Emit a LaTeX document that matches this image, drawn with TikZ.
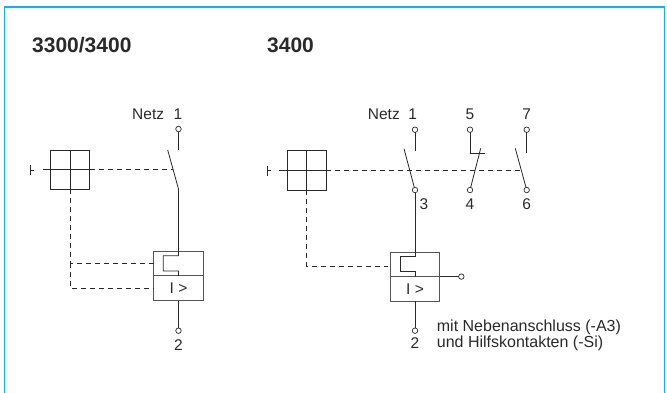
\documentclass[tikz,border=0pt]{standalone}
\usepackage{fontspec}
\setmainfont{Liberation Sans}
\definecolor{frameCyan}{HTML}{12B0F0}
\definecolor{lineDark}{HTML}{2A2A2A}
\definecolor{boxGray}{HTML}{555555}
\usetikzlibrary{calc,positioning}
\begin{document}
\begin{tikzpicture}[x=1pt,y=-1pt,
  lbl/.style={inner sep=0pt, text=lineDark, font=\fontsize{15.5}{16}\selectfont},
  heading/.style={inner sep=0pt, anchor=west, text=lineDark, font=\fontsize{21}{22}\selectfont\bfseries},
  wire/.style={draw=lineDark, line width=0.8pt},
  mech/.style={draw=lineDark, line width=0.9pt, dash pattern=on 5pt off 4pt},
  unitbox/.style={draw=boxGray, line width=0.9pt, minimum width=49.5pt, minimum height=24.6pt, inner sep=0pt, outer sep=0pt},
  handbox/.style={draw=lineDark, line width=0.8pt, minimum size=39.5pt, inner sep=0pt, outer sep=0pt},
  term/.style={circle, draw=lineDark, fill=white, line width=0.7pt, minimum size=5.5pt, inner sep=0pt, outer sep=0pt}
]
  \useasboundingbox (0,0) rectangle (667,392);
  \draw[frameCyan, line width=1.4pt] (4.6,393) -- (4.6,7) -- (664.7,7) -- (664.7,393);
  \node[heading] (titleA) at (32,45.5) {3300/3400};
  \node[heading] (titleB) at (267,45.5) {3400};

  % left circuit
  \node[unitbox] (relA) at (178.5,263.6) {};
  \node[unitbox, lbl] (trpA) at (178.5,288.2) {I >};
  \node[term] (t1A) at (178.5,129) {};
  \node[term] (t2A) at (178.5,330.7) {};
  \node[lbl] (n1A) at (178,114) {1};
  \node[lbl, anchor=east] (netzA) at (164.3,114) {Netz};
  \node[lbl] (n2A) at (178.5,345) {2};
  \node[handbox] (hndA) at (70,169.7) {};
  \draw[wire] (t1A) -- (178.5,150);
  \draw[wire] (167.7,150) -- (178.5,189) -- (178.5,255.7) -- (163.3,255.7) -- (163.3,271) -- (178.5,271) -- (relA.south);
  \draw[wire] (trpA.south) -- (t2A);
  \draw[wire] (30.7,165) -- (30.7,175);
  \draw[wire] (30.7,170) -- (34,170);
  \draw[wire] (42.7,169.7) -- (hndA.east);
  \draw[wire] (hndA.north) -- (hndA.south);
  \draw[mech] (hndA.east) -- (173.3,169.7);
  \draw[mech] (hndA.south) -- (70,263.3) -- (relA.west |- 0,263.3);
  \draw[mech] (70,263.3) -- (70,288.3) -- (trpA.west |- 0,288.3);

  % right circuit
  \node[unitbox] (relB) at (415,264.3) {};
  \node[unitbox, lbl] (trpB) at (415,288.9) {I >};
  \node[term] (t1B) at (415,129.7) {};
  \node[term] (t3B) at (415,190) {};
  \node[term] (t5B) at (470,129.7) {};
  \node[term] (t4B) at (470,190) {};
  \node[term] (t7B) at (526.7,129.7) {};
  \node[term] (t6B) at (526.7,190) {};
  \node[term] (t2B) at (415,330.7) {};
  \node[term] (auxB) at (461.3,276.6) {};
  \node[lbl] (n1B) at (412.7,114) {1};
  \node[lbl, anchor=east] (netzB) at (400,114) {Netz};
  \node[lbl] (n5B) at (470,114) {5};
  \node[lbl] (n7B) at (526.7,114) {7};
  \node[lbl] (n3B) at (424,204.3) {3};
  \node[lbl] (n4B) at (470,204.3) {4};
  \node[lbl] (n6B) at (526.7,204.3) {6};
  \node[lbl] (n2B) at (415,343.3) {2};
  \node[lbl, anchor=west, align=left, font=\fontsize{16}{16}\selectfont] (noteB) at (436.7,335.2) {mit Nebenanschluss (-A3)\\und Hilfskontakten (-Si)};
  \node[handbox] (hndB) at (306.7,170.3) {};
  \draw[wire] (t1B) -- (415,150.7);
  \draw[wire] (404,148.7) -- (t3B);
  \draw[wire] (t3B) -- (415,256.7) -- (400.3,256.7) -- (400.3,271.3) -- (415,271.3) -- (relB.south);
  \draw[wire] (trpB.south) -- (t2B);
  \draw[wire] (t5B) -- (470,153.3) -- (484.7,153.3);
  \draw[wire] (480.7,148.3) -- (t4B);
  \draw[wire] (t7B) -- (526.7,153.3);
  \draw[wire] (515.3,148.3) -- (t6B);
  \draw[wire] (relB.south east) -- (auxB);
  \draw[wire] (267.3,165.5) -- (267.3,175.5);
  \draw[wire] (267.3,170.3) -- (271.3,170.3);
  \draw[wire] (279.3,170.3) -- (hndB.east);
  \draw[wire] (hndB.north) -- (hndB.south);
  \draw[mech] (hndB.east) -- (520.7,170.3);
  \draw[mech] (hndB.south) -- (306.7,266) -- (388,266);
\end{tikzpicture}
\end{document}
